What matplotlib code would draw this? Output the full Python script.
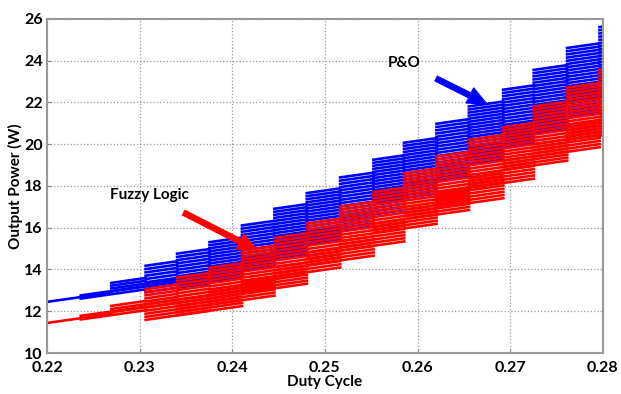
import numpy as np
import matplotlib.pyplot as plt

plt.rcParams['font.family'] = ['Lato', 'DejaVu Sans']

# duty cycle where each staircase block starts
duty_start = [0.2200, 0.2235, 0.2268, 0.2305, 0.2339, 0.2374, 0.2409, 0.2444, 0.2479,
              0.2515, 0.2551, 0.2584, 0.2619, 0.2654, 0.2691, 0.2724, 0.2760, 0.2795]

# P&O (blue): highest and lowest power trace inside each block (W)
po_top = [12.45, 12.75, 13.35, 14.17, 14.75, 15.3, 16.1, 16.9, 17.65,
          18.4, 19.25, 20.06, 20.97, 21.8, 22.6, 23.55, 24.6, 25.6]
po_bottom = [12.45, 12.6, 12.95, 12.9, 13.2, 13.7, 14.3, 15.0, 15.6,
             16.4, 17.2, 18.0, 18.8, 19.6, 20.3, 21.1, 22.0, 23.0]

# Fuzzy logic (red)
fz_top = [11.44, 11.77, 12.25, 13.05, 13.6, 14.07, 14.9, 15.5, 16.2,
          17.0, 17.7, 18.6, 19.4, 20.2, 20.8, 21.8, 22.7, 23.55]
fz_bottom = [11.44, 11.6, 11.95, 11.58, 11.8, 12.3, 12.87, 13.64, 14.2,
             14.9, 15.75, 16.4, 16.95, 17.9, 18.77, 19.4, 20.2, 20.4]

x_ticks = [0.22, 0.23, 0.24, 0.25, 0.26, 0.27, 0.28]
y_ticks = [10, 12, 14, 16, 18, 20, 22, 24, 26]

step = 0.0035
rise = 0.22  # power rise along one trace over one step
gap = 0.15   # spacing between stacked traces


def draw_blocks(ax, tops, bottoms, color, long_part):
    for i, (top, bot) in enumerate(zip(tops, bottoms)):
        x0 = duty_start[i]
        n = max(1, int(round((top - bot) / gap)) + 1)
        for k, p in enumerate(np.linspace(bot, top, n)):
            # lower traces of a block run on for two steps, upper ones for one
            span = 2 if (k < n * long_part or i < 2) else 1
            j = i + span
            x1 = duty_start[j] if j < len(duty_start) else x0 + span * step
            x1 += 0.0003
            ax.plot([x0, x1], [p, p + rise * (x1 - x0) / step],
                    color=color, lw=1.9, solid_capstyle='butt')


fig = plt.figure(figsize=(6.21, 3.94), dpi=100)
ax = fig.add_axes([0.0757, 0.104, 0.895, 0.848])

draw_blocks(ax, po_top, po_bottom, '#0000ff', 0.35)
draw_blocks(ax, fz_top, fz_bottom, '#ff0000', 0.5)

ax.set_xlim(0.22, 0.28)
ax.set_ylim(10, 26)
ax.set_xticks(x_ticks)
ax.set_yticks(y_ticks)
ax.set_xticklabels(['%.2f' % t for t in x_ticks], fontweight='bold', fontsize=11.5)
ax.set_yticklabels([str(t) for t in y_ticks], fontweight='bold', fontsize=11.5)
ax.tick_params(direction='in', length=3, color='#888888', pad=3)
ax.tick_params(axis='x', pad=6)
ax.grid(True, linestyle=':', color='#999999', linewidth=0.9)
for s in ax.spines.values():
    s.set_color('#999999')
    s.set_linewidth(1.5)

ax.set_xlabel('Duty Cycle', fontweight='bold', fontsize=11, labelpad=0)
ax.set_ylabel('Output Power (W)', fontweight='bold', fontsize=11, labelpad=1)

ax.annotate('Fuzzy Logic', xy=(0.24265, 14.93), xytext=(0.2311, 17.55),
            fontsize=11, fontweight='bold', ha='center', va='center',
            arrowprops=dict(arrowstyle='simple,head_length=0.9,head_width=0.8,tail_width=0.25',
                            color='#ff0000', mutation_scale=15, shrinkA=12, shrinkB=0))
ax.annotate('P&O', xy=(0.26747, 21.93), xytext=(0.2586, 23.9),
            fontsize=11, fontweight='bold', ha='center', va='center',
            arrowprops=dict(arrowstyle='simple,head_length=0.9,head_width=0.8,tail_width=0.25',
                            color='#0000ff', mutation_scale=15, shrinkA=10, shrinkB=0))

plt.savefig('out.png', dpi=100)
